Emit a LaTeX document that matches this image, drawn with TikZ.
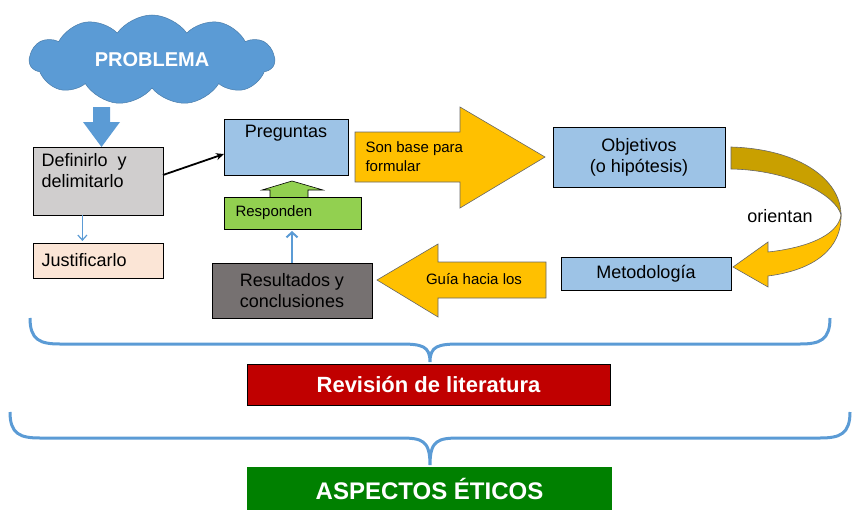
\documentclass[tikz,border=0pt]{standalone}
\usepackage{fontspec}
\setmainfont{Liberation Sans}
\usetikzlibrary{shapes.symbols,arrows.meta}
\definecolor{cblue}{HTML}{5B9BD5}
\definecolor{lblue}{HTML}{9DC3E6}
\definecolor{lgray}{HTML}{D0CECE}
\definecolor{peach}{HTML}{FBE5D6}
\definecolor{lgreen}{HTML}{92D050}
\definecolor{dgray}{HTML}{767171}
\definecolor{yel}{HTML}{FFC000}
\definecolor{dgold}{HTML}{C9A000}
\definecolor{dred}{HTML}{C00000}
\definecolor{dgreen}{HTML}{008000}
\begin{document}
\begin{tikzpicture}[x=1pt,y=-1pt,
  box/.style={draw=black,line width=0.8pt,anchor=north west,inner sep=0pt},
  txt/.style={font=\fontsize{18}{21}\selectfont,align=left},
  brace/.style={draw=cblue,line width=3pt}]
\useasboundingbox (0,0) rectangle (857,522);
% cloud
\node[cloud,cloud puffs=11,cloud puff arc=110,aspect=2.6,fill=cblue,draw=cblue!80!black,line width=0.5pt,minimum width=245pt,minimum height=90pt,font=\bfseries\fontsize{20}{24}\selectfont,text=white] (cl) at (152,60) {PROBLEMA};
% down block arrow
\fill[cblue] (93,107) -- (110,107) -- (110,122) -- (120,122) -- (101.5,147) -- (83,122) -- (93,122) -- cycle;
% boxes
\node[box,fill=lgray,minimum width=130pt,minimum height=68pt] (def) at (33,147) {};
\node[txt,anchor=north west] at (38,150) {Definirlo\ \ y\\delimitarlo};
\node[box,fill=peach,minimum width=130pt,minimum height=35pt] (jus) at (33,243) {};
\node[txt,anchor=west] at (38,260.5) {Justificarlo};
\draw[cblue,line width=1.2pt,-{Straight Barb[length=5pt,width=9pt]}] (def.south |- 0,215) ++(-16,0) coordinate (d1) -- ++(0,26) coordinate (d2);
\node[box,fill=lblue,minimum width=124pt,minimum height=56pt] (pre) at (224,119) {};
\node[txt,anchor=north] at (286,122) {Preguntas};
\draw[black,line width=1.8pt,-{Stealth[length=8pt,width=7pt]}] (163,175) -- (224,154);
% up block arrow
\fill[lgreen] (270,198) -- (308,198) -- (308,190) -- (323,190) -- (292,181) -- (262,190) -- (270,190) -- cycle;
\draw[black,line width=0.6pt] (270,197) -- (270,190) -- (262,190) -- (292,181) -- (323,190) -- (308,190) -- (308,197);
\node[box,fill=lgreen,minimum width=137pt,minimum height=32pt] (res) at (224,197) {};
\node[anchor=west,font=\fontsize{15}{18}\selectfont] at (232,213) {Responden};
\node[box,fill=dgray,minimum width=160pt,minimum height=55pt] (rc) at (212,263) {};
\node[txt,align=center] at (292,290.5) {Resultados y\\conclusiones};
\draw[cblue,line width=2pt,-{Straight Barb[length=5pt,width=11pt]}] (292,263) -- (292,231);
% big yellow arrow
\draw[fill=yel,draw=black!60,line width=0.6pt] (355,132) -- (460,132) -- (460,107) -- (545,157) -- (460,208) -- (460,182) -- (355,182) -- cycle;
\node[anchor=west,align=left,font=\fontsize{15}{19}\selectfont] at (362,157) {Son base para\\formular};
\node[box,fill=lblue,minimum width=172pt,minimum height=60pt] (obj) at (553,127) {};
\node[txt,align=center] at (639,157) {Objetivos\\(o hipótesis)};
% curved arrow
\draw[fill=dgold,draw=black!60,line width=0.6pt] (731,147) .. controls (800,149) and (841,180) .. (841,215) .. controls (836,195) and (790,170) .. (731,169) -- cycle;
\draw[fill=yel,draw=black!60,line width=0.6pt] (841,215) .. controls (838,236) and (805,248) .. (768,252) -- (768,242) -- (733,267) -- (768,287) -- (768,276) .. controls (815,270) and (842,248) .. (841,215) -- cycle;
\node[font=\fontsize{18}{21}\selectfont] at (780,216) {orientan};
\node[box,fill=lblue,minimum width=170pt,minimum height=33pt] (met) at (561,257) {};
\node[txt] at (646,273.5) {Metodología};
% left yellow arrow
\draw[fill=yel,draw=black!60,line width=0.6pt] (546,262) -- (438,262) -- (438,244) -- (377,280) -- (438,317) -- (438,298) -- (546,298) -- cycle;
\node[font=\fontsize{15}{18}\selectfont] at (474,279) {Guía hacia los};
% braces
\draw[brace] (30,318) .. controls (30,340) and (40,344) .. (60,344) -- (400,344) .. controls (422,344) and (430,346) .. (430,362) .. controls (430,346) and (438,344) .. (460,344) -- (800,344) .. controls (820,344) and (830,340) .. (830,318);
\node[box,fill=dred,minimum width=363pt,minimum height=41pt] (rev) at (247,364) {};
\node[text=white,font=\bfseries\fontsize{22}{26}\selectfont] at (428.5,384.5) {Revisión de literatura};
\draw[brace] (10,412) .. controls (10,434) and (20,438) .. (40,438) -- (400,438) .. controls (422,438) and (430,440) .. (430,465) .. controls (430,440) and (438,438) .. (460,438) -- (820,438) .. controls (840,438) and (850,434) .. (850,412);
\node[anchor=north west,fill=dgreen,minimum width=365pt,minimum height=43pt,inner sep=0pt] (eti) at (247,467) {};
\node[text=white,font=\bfseries\fontsize{24}{28}\selectfont] at (429.5,488.5) {ASPECTOS ÉTICOS};
\end{tikzpicture}
\end{document}
